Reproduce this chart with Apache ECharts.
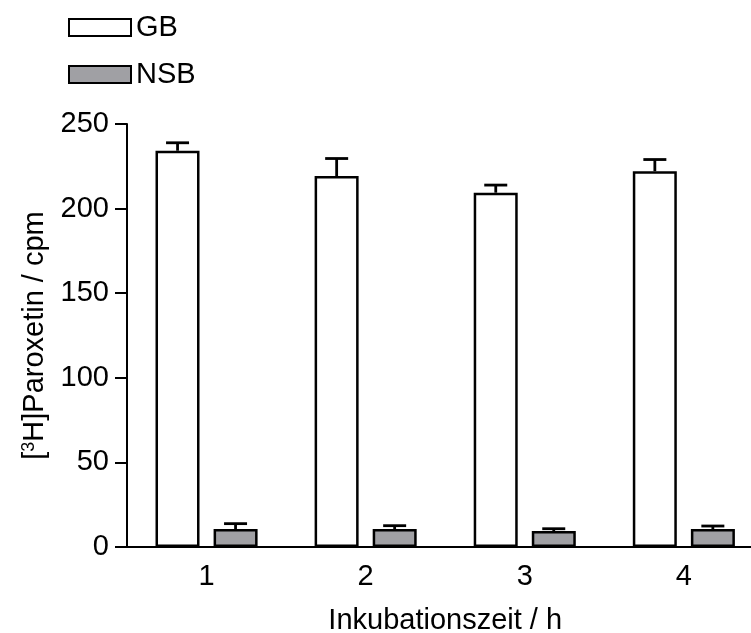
<!DOCTYPE html>
<html><head><meta charset="utf-8">
<script src="https://cdn.jsdelivr.net/npm/echarts@6/dist/echarts.min.js"></script>
<style>html,body{margin:0;padding:0;background:#fff}#c{width:751px;height:633px}</style>
</head><body><div id="c"></div>
<script>
const categories = ['1', '2', '3', '4'];
const gbValues = [234.2, 219.2, 209.4, 222.1];
const gbErrors = [4.7, 10.4, 4.5, 6.9];
const nsbValues = [10.6, 10.6, 9.4, 10.6];
const nsbErrors = [3.2, 2.0, 1.4, 1.8];
const yTicks = [0, 50, 100, 150, 200, 250];

const FONT = '"Liberation Sans", Arial, sans-serif';
const FS = 29;
const chart = echarts.init(document.getElementById('c'), null, {renderer: 'canvas'});

function errSeries(vals, errs, offset) {
  return {
    type: 'custom',
    silent: true,
    z: 1,
    data: vals.map((v, i) => [i, v, v + errs[i]]),
    renderItem: function (params, api) {
      const base = api.coord([api.value(0), api.value(1)]);
      const top = api.coord([api.value(0), api.value(2)]);
      const x = base[0] + offset;
      return {
        type: 'group',
        children: [
          {type: 'line', shape: {x1: x, y1: base[1], x2: x, y2: top[1]}, style: {stroke: '#000', lineWidth: 2.8}},
          {type: 'line', shape: {x1: x - 11.5, y1: top[1], x2: x + 11.5, y2: top[1]}, style: {stroke: '#000', lineWidth: 2.8}}
        ]
      };
    }
  };
}

chart.setOption({
  animation: false,
  backgroundColor: '#fff',
  textStyle: {fontFamily: FONT},
  legend: {
    orient: 'vertical',
    left: 63, top: 8,
    itemWidth: 62, itemHeight: 17, itemGap: 18,
    icon: 'rect',
    textStyle: {fontSize: FS, color: '#000', fontFamily: FONT},
    data: ['GB', 'NSB']
  },
  grid: {left: 127, top: 124, width: 636.4, height: 423, containLabel: false, outerBoundsMode: 'none'},
  xAxis: {
    type: 'category',
    data: categories,
    boundaryGap: true,
    axisLine: {lineStyle: {color: '#000', width: 2}},
    axisTick: {alignWithLabel: true, length: 12, lineStyle: {color: '#000', width: 2}},
    axisLabel: {fontSize: FS, color: '#000', margin: 15, fontFamily: FONT},
    name: 'Inkubationszeit / h',
    nameLocation: 'middle',
    nameGap: 59,
    nameTextStyle: {fontSize: FS, color: '#000', fontFamily: FONT}
  },
  yAxis: {
    type: 'value',
    min: yTicks[0], max: yTicks[yTicks.length - 1], interval: 50,
    splitLine: {show: false},
    axisLine: {show: true, lineStyle: {color: '#000', width: 2}},
    axisTick: {show: true, length: 12, lineStyle: {color: '#000', width: 2}},
    axisLabel: {fontSize: FS, color: '#000', margin: 18, fontFamily: FONT},
    name: '[{s|3}H]Paroxetin / cpm',
    nameLocation: 'middle',
    nameGap: 71,
    nameRotate: 90,
    nameTextStyle: {
      fontSize: FS, color: '#000', fontFamily: FONT,
      rich: {s: {fontSize: 18, color: '#000', fontFamily: FONT, verticalAlign: 'top', padding: [0, 0, 12, 0]}}
    }
  },
  series: [
    {
      name: 'GB', type: 'bar', data: gbValues, barWidth: 44, barGap: '32%', z: 2,
      itemStyle: {color: '#ffffff', borderColor: '#000', borderWidth: 2.5}
    },
    {
      name: 'NSB', type: 'bar', data: nsbValues, barWidth: 44, z: 2,
      itemStyle: {color: '#a0a0a4', borderColor: '#000', borderWidth: 2.5}
    },
    errSeries(gbValues, gbErrors, -29),
    errSeries(nsbValues, nsbErrors, 29)
  ]
});
</script></body></html>
